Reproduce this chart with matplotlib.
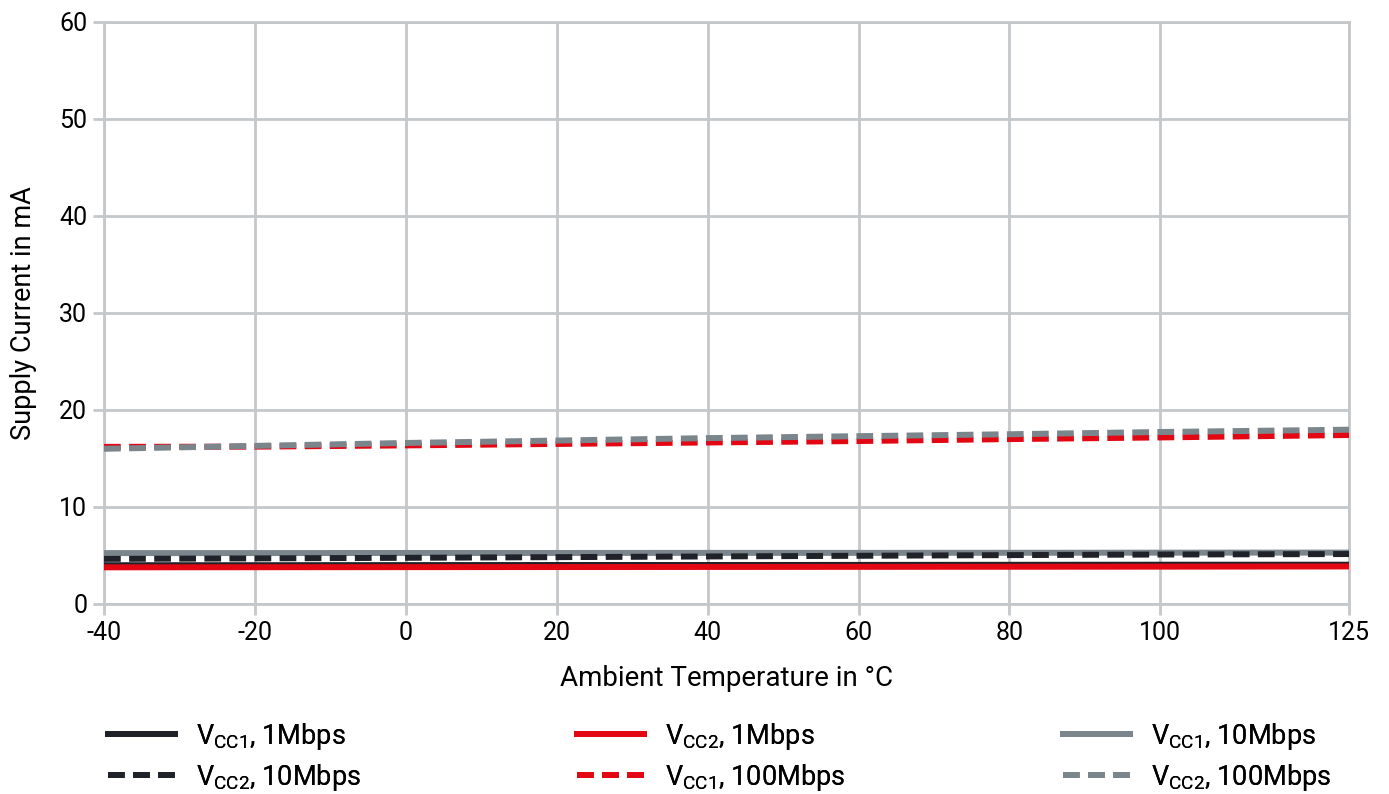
"""
Supply current vs ambient temperature for the two supply rails
at different data rates.
"""

import matplotlib
matplotlib.use('Agg')
import matplotlib.pyplot as plt
from matplotlib.lines import Line2D

plt.rcParams['font.family'] = ['Roboto', 'DejaVu Sans']
plt.rcParams['mathtext.fontset'] = 'custom'
plt.rcParams['mathtext.rm'] = 'Roboto'
plt.rcParams['mathtext.it'] = 'Roboto'
plt.rcParams['axes.unicode_minus'] = False

temps = [-40, -20, 0, 20, 40, 60, 80, 100, 125]

vcc1_1m = [4.00, 4.00, 4.01, 4.02, 4.02, 4.03, 4.04, 4.05, 4.05]
vcc2_10m = [4.65, 4.70, 4.76, 4.83, 4.90, 4.97, 5.04, 5.10, 5.15]
vcc2_1m = [3.78, 3.79, 3.80, 3.81, 3.82, 3.83, 3.84, 3.85, 3.87]
vcc1_100m = [16.20, 16.22, 16.35, 16.50, 16.65, 16.80, 17.00, 17.17, 17.42]
vcc1_10m = [5.25, 5.25, 5.26, 5.26, 5.27, 5.27, 5.28, 5.29, 5.30]
vcc2_100m = [16.00, 16.30, 16.60, 16.85, 17.10, 17.30, 17.50, 17.73, 17.97]

x_ticks = [-40, -20, 0, 20, 40, 60, 80, 100, 125]
y_ticks = [0, 10, 20, 30, 40, 50, 60]

DARK = '#1f2329'
RED = '#e30613'
GRAY = '#7b858c'
GRID = '#c4c8ca'
LW = 4.3
DASH = (2.8, 1.4)


def main():
    fig = plt.figure(figsize=(13.89, 7.94), dpi=100)
    ax = fig.add_axes([0.0749, 0.2393, 0.8963, 0.7330])

    ax.plot(temps, vcc1_1m, color=DARK, lw=LW, zorder=3)
    ax.plot(temps, vcc1_10m, color=GRAY, lw=LW, zorder=3)
    ax.plot(temps, vcc2_10m, color=DARK, lw=LW, dashes=DASH, zorder=4)
    ax.plot(temps, vcc2_1m, color=RED, lw=LW, zorder=4)
    ax.plot(temps, vcc1_100m, color=RED, lw=LW, dashes=DASH, zorder=3)
    ax.plot(temps, vcc2_100m, color=GRAY, lw=LW, dashes=DASH, zorder=4)

    ax.set_xlim(-40, 125)
    ax.set_ylim(0, 60)
    ax.set_xticks(x_ticks)
    ax.set_yticks(y_ticks)
    ax.grid(True, color=GRID, lw=2.0, zorder=1)
    for sp in ax.spines.values():
        sp.set_color(GRID)
        sp.set_linewidth(2.0)
    ax.tick_params(colors=GRID, width=2.0, length=8, labelcolor='black',
                   labelsize=18, pad=4)
    ax.set_xlabel('Ambient Temperature in °C', fontsize=20, labelpad=15)
    ax.set_ylabel('Supply Current in mA', fontsize=19.5, labelpad=16)

    groups = [
        (104 / 1389, [(DARK, None, r'V$_{\mathrm{CC1}}$, 1Mbps'),
                      (DARK, DASH, r'V$_{\mathrm{CC2}}$, 10Mbps')]),
        (573 / 1389, [(RED, None, r'V$_{\mathrm{CC2}}$, 1Mbps'),
                      (RED, DASH, r'V$_{\mathrm{CC1}}$, 100Mbps')]),
        (1059 / 1389, [(GRAY, None, r'V$_{\mathrm{CC1}}$, 10Mbps'),
                       (GRAY, DASH, r'V$_{\mathrm{CC2}}$, 100Mbps')]),
    ]
    for x0, entries in groups:
        handles = []
        labels = []
        for color, dash, label in entries:
            if dash is None:
                h = Line2D([], [], color=color, lw=LW)
            else:
                h = Line2D([], [], color=color, lw=LW, dashes=DASH)
            handles.append(h)
            labels.append(label)
        leg = fig.legend(handles, labels, loc='upper left',
                         bbox_to_anchor=(x0 + 0.003, 0.092), frameon=False,
                         fontsize=19.5, handlelength=2.45, handletextpad=0.8,
                         labelspacing=0.36, borderpad=0, borderaxespad=0)
        fig.add_artist(leg)

    fig.savefig('out.png', dpi=100)


if __name__ == '__main__':
    main()
